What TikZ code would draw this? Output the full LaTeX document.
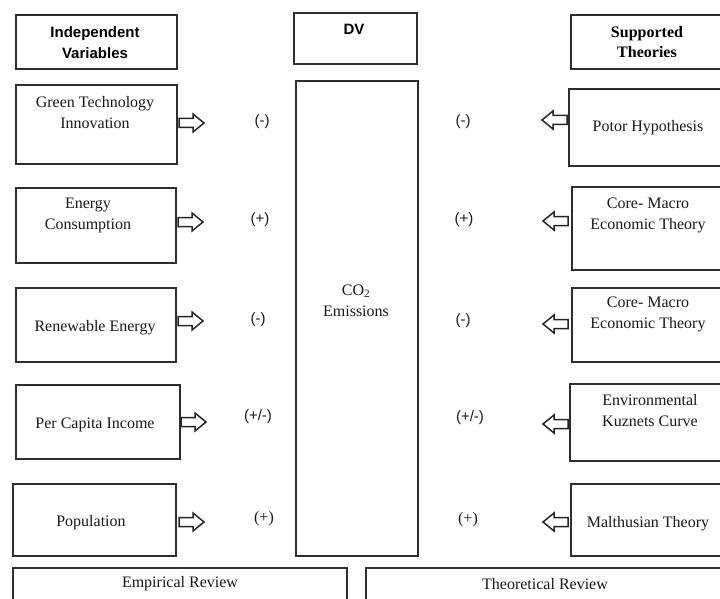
\documentclass[tikz,border=0pt]{standalone}
\usepackage{fontspec}
\setmainfont{Liberation Serif}
\setsansfont{Liberation Sans}
\begin{document}
\begin{tikzpicture}[x=1pt,y=-1pt,
  box/.style={draw=black!82, line width=1.7pt, rectangle, inner sep=0pt, anchor=north west},
  txt/.style={font=\fontsize{16}{21}\selectfont, align=center, inner sep=0pt, text=black!90},
  hdsans/.style={font=\sffamily\bfseries\fontsize{15}{21}\selectfont, align=center, inner sep=0pt},
  hdserif/.style={font=\bfseries\fontsize{16}{20}\selectfont, align=center, inner sep=0pt},
  sgn/.style={font=\sffamily\fontsize{15}{16}\selectfont, inner sep=0pt, text=black!90},
  sgnserif/.style={font=\fontsize{16}{16}\selectfont, inner sep=0pt, text=black!90},
  blk/.style={draw=black!85, line width=1.5pt, fill=white, line join=miter},
  rblk/.pic={\draw[blk] (0,-4.5) -- (14,-4.5) -- (14,-9) -- (25,0) -- (14,9) -- (14,4.5) -- (0,4.5) -- cycle;},
  lblk/.pic={\draw[blk] (0,-4.5) -- (-14,-4.5) -- (-14,-9) -- (-25,0) -- (-14,9) -- (-14,4.5) -- (0,4.5) -- cycle;}
]
\clip (0,0) rectangle (720,599);
\fill[white] (0,0) rectangle (720,599);

% headers
\node[box, minimum width=161, minimum height=54] (hiv) at (15,14) {};
\node[hdsans] (tiv) at (95,42.5) {Independent\\Variables};
\node[box, minimum width=123, minimum height=51] (hdv) at (293,12) {};
\node[hdsans] (tdv) at (354,29) {DV};
\node[box, minimum width=170, minimum height=54] (hst) at (570,14) {};
\node[hdserif] (tst) at (647,42.5) {Supported\\Theories};

% left boxes
\node[box, minimum width=161, minimum height=79] (b1) at (15,84) {};
\node[txt] (t1) at (95,112.5) {Green Technology\\Innovation};
\node[box, minimum width=160, minimum height=75] (b2) at (15,187) {};
\node[txt] (t2) at (88,215.5) {Energy\\Consumption};
\node[box, minimum width=160, minimum height=74] (b3) at (15,287) {};
\node[txt] (t3) at (95,328) {Renewable Energy};
\node[box, minimum width=164, minimum height=74] (b4) at (15,384) {};
\node[txt] (t4) at (95,425) {Per Capita Income};
\node[box, minimum width=163, minimum height=72] (b5) at (12,483) {};
\node[txt] (t5) at (91,523) {Population};

% DV box
\node[box, minimum width=122, minimum height=475] (dv) at (295,80) {};
\node[txt] (tco) at (356,300.5) {CO\textsubscript{2}\\Emissions};

% right boxes
\node[box, minimum width=170, minimum height=77] (r1) at (568,88) {};
\node[txt] (s1) at (648,128) {Potor Hypothesis};
\node[box, minimum width=170, minimum height=83] (r2) at (571,186) {};
\node[txt] (s2) at (648,215) {Core- Macro\\Economic Theory};
\node[box, minimum width=170, minimum height=74] (r3) at (571,287) {};
\node[txt] (s3) at (648,314.5) {Core- Macro\\Economic Theory};
\node[box, minimum width=170, minimum height=77] (r4) at (569,383) {};
\node[txt] (s4) at (650,411) {Environmental\\Kuznets Curve};
\node[box, minimum width=170, minimum height=72] (r5) at (570,483) {};
\node[txt] (s5) at (648,524) {Malthusian Theory};

% bottom boxes
\node[box, minimum width=334, minimum height=50] (emp) at (12,567) {};
\node[txt] (temp) at (180,584) {Empirical Review};
\node[box, minimum width=370, minimum height=50] (the) at (365,567) {};
\node[txt] (tthe) at (545,584) {Theoretical Review};

% block arrows
\pic at (179,123) {rblk};
\pic at (178,222) {rblk};
\pic at (178,321) {rblk};
\pic at (181,422) {rblk};
\pic at (179,522) {rblk};
\pic at (567,120) {lblk};
\pic at (568,221) {lblk};
\pic at (568,324) {lblk};
\pic at (568,424) {lblk};
\pic at (568,522) {lblk};

% signs
\node[sgn] (l1) at (262,122) {(-)};
\node[sgn] (l2) at (260,220) {(+)};
\node[sgn] (l3) at (258,320) {(-)};
\node[sgn] (l4) at (258,417) {(+/-)};
\node[sgnserif] (l5) at (264,519) {(+)};
\node[sgn] (q1) at (463,122) {(-)};
\node[sgn] (q2) at (464,220) {(+)};
\node[sgn] (q3) at (463,321) {(-)};
\node[sgn] (q4) at (470,418) {(+/-)};
\node[sgnserif] (q5) at (468,520) {(+)};
\end{tikzpicture}
\end{document}
